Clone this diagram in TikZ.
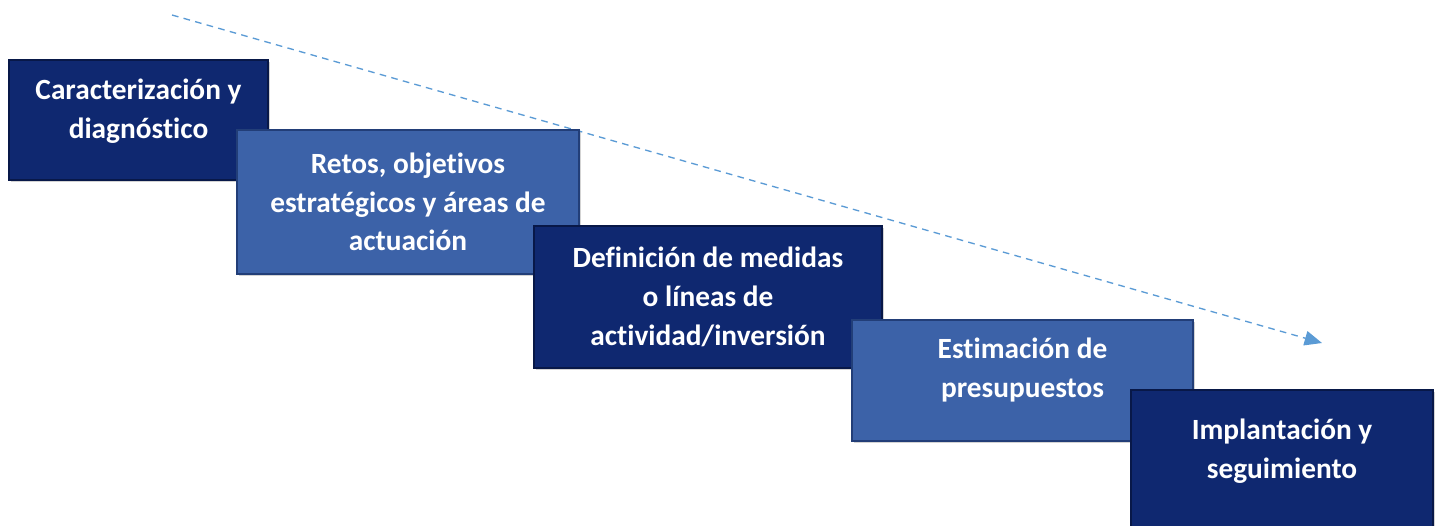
\documentclass[tikz,border=0pt]{standalone}
\usepackage{fontspec}
\setmainfont[Ligatures=NoCommon,RawFeature=-liga]{Carlito}
\usetikzlibrary{arrows.meta,shadows}
\definecolor{navy}{RGB}{15,40,112}
\definecolor{navyedge}{RGB}{8,24,72}
\definecolor{midblue}{RGB}{60,98,168}
\definecolor{midedge}{RGB}{34,62,120}
\definecolor{arrowblue}{RGB}{91,155,213}
\tikzset{
  txt/.style={text=white, align=center, font=\bfseries\fontsize{22pt}{29pt}\selectfont},
  stepbox/.style={rectangle, inner sep=0pt, txt,
    line width=2.2pt, drop shadow={shadow xshift=1.5pt, shadow yshift=-1.5pt, opacity=0.35}},
  darkbox/.style={stepbox, fill=navy, draw=navyedge},
  midbox/.style={stepbox, fill=midblue, draw=midedge},
  flow/.style={draw=arrowblue, line width=1pt, dash pattern=on 5pt off 4pt,
    -{Triangle[length=13pt,width=11pt,fill=arrowblue,sep=0pt]}}
}
\begin{document}
\begin{tikzpicture}[x=0.75pt,y=-0.75pt]
\useasboundingbox (0,0) rectangle (1438,525);
\coordinate (astart) at (172,15);
\coordinate (aend) at (1322,343);
\draw[flow] (astart) -- (aend);
\node[darkbox, minimum width=259*0.75pt, minimum height=120*0.75pt] (b1) at (138.5,120) {};
\node[txt] (t1) at (138.5,111) {Caracterización y\\diagnóstico};
\node[midbox, minimum width=342*0.75pt, minimum height=144*0.75pt] (b2) at (408,202) {Retos, objetivos\\estratégicos y áreas de\\actuación};
\node[darkbox, minimum width=348*0.75pt, minimum height=142*0.75pt] (b3) at (708,297) {Definición de medidas\\o líneas de\\actividad/inversión};
\node[midbox, minimum width=341*0.75pt, minimum height=121*0.75pt] (b4) at (1022.5,380.5) {};
\node[txt] (t4) at (1022.5,370) {Estimación de\\presupuestos};
\node[darkbox, minimum width=302*0.75pt, minimum height=150*0.75pt] (b5) at (1282,465) {};
\node[txt] (t5) at (1282,451) {Implantación y\\seguimiento};
\end{tikzpicture}
\end{document}
